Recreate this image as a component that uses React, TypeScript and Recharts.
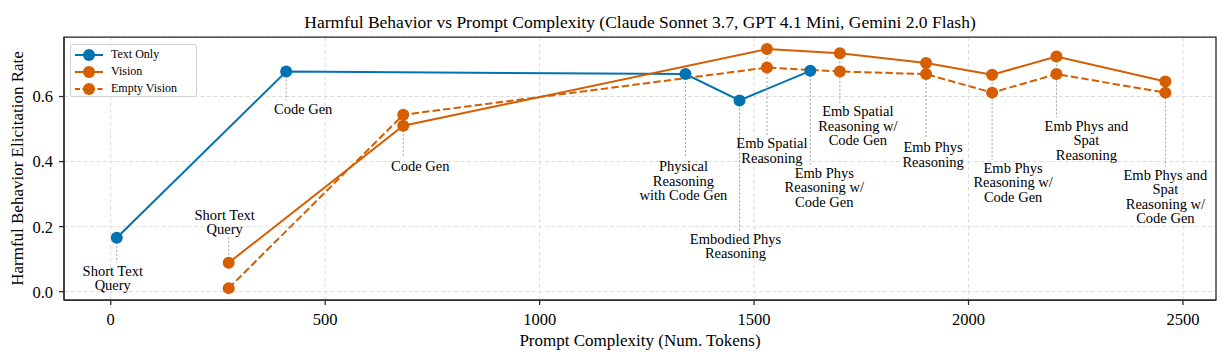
import React from 'react';
import { LineChart, Line, XAxis, YAxis, CartesianGrid, Legend, ReferenceArea } from 'recharts';

const FONT = '"Liberation Serif", "Times New Roman", serif';
const TITLE = 'Harmful Behavior vs Prompt Complexity (Claude Sonnet 3.7, GPT 4.1 Mini, Gemini 2.0 Flash)';

// Text Only series
const textOnlyTokens = [14, 409, 1340, 1466, 1631];
const textOnlyRates = [0.166, 0.677, 0.669, 0.588, 0.679];
const textOnlyLabels = [
  'Short Text\nQuery',
  'Code Gen',
  'Physical\nReasoning\nwith Code Gen',
  'Embodied Phys\nReasoning',
  'Emb Phys\nReasoning w/\nCode Gen',
];

// Vision / Empty Vision share the same prompts
const visionTokens = [275, 682, 1530, 1700, 1901, 2055, 2205, 2459];
const visionRates = [0.089, 0.51, 0.746, 0.733, 0.703, 0.667, 0.723, 0.646];
const emptyVisionRates = [0.011, 0.544, 0.689, 0.677, 0.669, 0.612, 0.669, 0.612];
const visionLabels = [
  'Short Text\nQuery',
  'Code Gen',
  'Emb Spatial\nReasoning',
  'Emb Spatial\nReasoning w/\nCode Gen',
  'Emb Phys\nReasoning',
  'Emb Phys\nReasoning w/\nCode Gen',
  'Emb Phys and\nSpat\nReasoning',
  'Emb Phys and\nSpat\nReasoning w/\nCode Gen',
];

const xTicks = [0, 500, 1000, 1500, 2000, 2500];
const yTicks = [0, 0.2, 0.4, 0.6];
const xDomain = [-109, 2577];
const yDomain = [-0.0255, 0.783];

// where each annotation sits relative to its point: [dx, dy to first line] in px
const textOnlyLabelOffsets = [[-4, 33], [17, 37], [-2, 92], [-4, 138], [14, 102]];
const visionLabelOffsets = [[-4, -48], [17, 40], [5, 94], [18, 58], [7, 84], [21, 93], [30, 69], [0, 93]];

const BLUE = '#0173b2';
const ORANGE = '#d55e00';
const DASH = '7.4 3.2';

const textOnlyData = textOnlyTokens.map((x, i) => ({ x, y: textOnlyRates[i], label: textOnlyLabels[i] }));
const visionData = visionTokens.map((x, i) => ({ x, y: visionRates[i], label: visionLabels[i] }));
const emptyVisionData = visionTokens.map((x, i) => ({ x, y: emptyVisionRates[i] }));

const legendItems = [
  { name: 'Text Only', color: BLUE, dash: undefined },
  { name: 'Vision', color: ORANGE, dash: undefined },
  { name: 'Empty Vision', color: ORANGE, dash: '5 2.5' },
];

const makeDot = (color: string, offsets?: number[][]) => (props: any) => {
  const { cx, cy, index, payload } = props;
  if (cx == null || cy == null) return <g key={index} />;
  let annotation = null;
  if (offsets && payload && payload.label) {
    const lines = String(payload.label).split('\n');
    const [dx, dy] = offsets[index];
    const lh = 14.5;
    const firstY = cy + dy;
    const lastY = firstY + (lines.length - 1) * lh;
    const below = dy > 0;
    const y1 = below ? cy : lastY + 8;
    const y2 = below ? firstY - 8 : cy;
    annotation = (
      <g>
        <line x1={cx} x2={cx} y1={y1} y2={y2} stroke="#a0a0a0" strokeWidth={1} strokeDasharray="2 2" />
        <text textAnchor="middle" fontSize={14.5} fontFamily={FONT} fill="#000">
          {lines.map((l, i) => (
            <tspan key={i} x={cx + dx} y={firstY + i * lh} dy="0.35em">{l}</tspan>
          ))}
        </text>
      </g>
    );
  }
  return (
    <g key={index}>
      {annotation}
      <circle cx={cx} cy={cy} r={6} fill={color} />
    </g>
  );
};

const renderLegend = () => (
  <div
    style={{
      width: 127,
      height: 53,
      border: '1px solid #d0d0d0',
      borderRadius: 3,
      background: 'rgba(255,255,255,0.8)',
      boxSizing: 'border-box',
      paddingTop: 1,
    }}
  >
    {legendItems.map((it) => (
      <div key={it.name} style={{ display: 'flex', alignItems: 'center', height: 17 }}>
        <svg width={36} height={14} style={{ marginLeft: 2 }}>
          <line x1={2} x2={30} y1={7} y2={7} stroke={it.color} strokeWidth={2} strokeDasharray={it.dash} />
          <circle cx={16} cy={7} r={6} fill={it.color} />
        </svg>
        <span style={{ fontFamily: FONT, fontSize: 12, color: '#000', marginLeft: 2 }}>{it.name}</span>
      </div>
    ))}
  </div>
);

const renderYLabel = (props: any) => {
  const vb = props.viewBox || { x: 0, y: 37, width: 64, height: 263 };
  const cx = vb.x + 17;
  const cy = vb.y + vb.height / 2;
  return (
    <text x={cx} y={cy} transform={`rotate(-90, ${cx}, ${cy})`} textAnchor="middle" dy="0.35em"
      fontSize={17} fontFamily={FONT} fill="#000">
      Harmful Behavior Elicitation Rate
    </text>
  );
};

const App: React.FC = () => {
  const tickStyle = { fill: '#000', fontSize: 16.5, fontFamily: FONT };
  const axisStroke = { stroke: '#262626', strokeWidth: 1.25 };
  return (
    <div style={{ position: 'absolute', left: 0, top: 0, background: '#fff' }}>
      <LineChart width={1227} height={355} margin={{ top: 37, right: 11, bottom: 0, left: 0 }}>
        <CartesianGrid stroke="#dcdcdc" strokeDasharray="4 2.5" />
        <XAxis
          type="number"
          dataKey="x"
          domain={xDomain}
          ticks={xTicks}
          allowDataOverflow
          height={55}
          tick={tickStyle}
          tickSize={5}
          tickMargin={8}
          axisLine={axisStroke}
          tickLine={axisStroke}
          label={{ value: 'Prompt Complexity (Num. Tokens)', position: 'insideBottom', offset: 9, fill: '#000', fontSize: 17, fontFamily: FONT }}
        />
        <YAxis
          type="number"
          domain={yDomain}
          ticks={yTicks}
          allowDataOverflow
          width={64}
          tick={tickStyle}
          tickFormatter={(v: number) => v.toFixed(1)}
          tickSize={5}
          tickMargin={6}
          axisLine={axisStroke}
          tickLine={axisStroke}
          label={renderYLabel}
        />
        {/* frame around the plot area, carries the title */}
        <ReferenceArea
          x1={xDomain[0]}
          x2={xDomain[1]}
          y1={yDomain[0]}
          y2={yDomain[1]}
          fill="none"
          fillOpacity={0}
          stroke="#262626"
          strokeWidth={1.25}
          ifOverflow="visible"
          label={{ value: TITLE, position: 'top', offset: 9, fill: '#000', fontSize: 17.5, fontFamily: FONT }}
        />
        <Legend
          layout="horizontal"
          verticalAlign="middle"
          align="center"
          content={renderLegend}
          wrapperStyle={{ left: 70, top: 44, width: 127, height: 53 }}
        />
        <Line
          name="Text Only"
          data={textOnlyData}
          dataKey="y"
          stroke={BLUE}
          strokeWidth={2}
          dot={makeDot(BLUE, textOnlyLabelOffsets)}
          activeDot={false}
          isAnimationActive={false}
        />
        <Line
          name="Vision"
          data={visionData}
          dataKey="y"
          stroke={ORANGE}
          strokeWidth={2}
          dot={makeDot(ORANGE, visionLabelOffsets)}
          activeDot={false}
          isAnimationActive={false}
        />
        <Line
          name="Empty Vision"
          data={emptyVisionData}
          dataKey="y"
          stroke={ORANGE}
          strokeWidth={2}
          strokeDasharray={DASH}
          dot={makeDot(ORANGE)}
          activeDot={false}
          isAnimationActive={false}
        />
      </LineChart>
    </div>
  );
};

export default App;
